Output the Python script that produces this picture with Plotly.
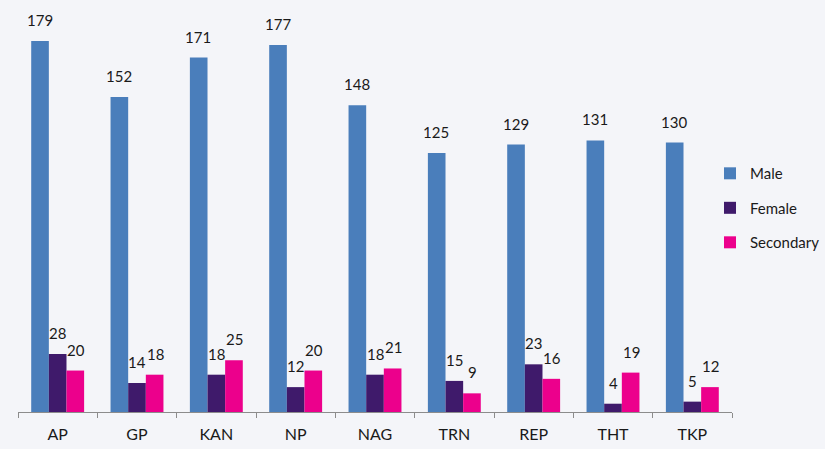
import plotly.graph_objects as go

categories = ["AP", "GP", "KAN", "NP", "NAG", "TRN", "REP", "THT", "TKP"]
male = [179, 152, 171, 177, 148, 125, 129, 131, 130]
female = [28, 14, 18, 12, 18, 15, 23, 4, 5]
secondary = [20, 18, 25, 20, 21, 9, 16, 19, 12]

series = [
    ("Male", male, "#4A7EBB"),
    ("Female", female, "#3F1A6B"),
    ("Secondary", secondary, "#EC008C"),
]
label_shift = [-18, 0, 18]

fig = go.Figure()
for (name, vals, color), dx in zip(series, label_shift):
    fig.add_trace(go.Bar(
        x=categories, y=vals, name=name, legendgroup=name,
        marker=dict(color=color, line=dict(width=0)),
    ))
    for c, v in zip(categories, vals):
        fig.add_annotation(x=c, y=v, text=str(v), showarrow=False,
                           xshift=dx, yshift=10, yanchor="bottom",
                           font=dict(size=15, color="#1a1a1a", family="Lato"))

fig.update_layout(
    width=825, height=449,
    margin=dict(l=18, r=78, t=0, b=37),
    paper_bgcolor="#F4F5F9", plot_bgcolor="#F4F5F9",
    barmode="group", bargap=0.333, bargroupgap=0,
    font=dict(family="Lato", size=15, color="#1a1a1a"),
    showlegend=True,
    legend=dict(x=0.9695, xanchor="left", y=0.495, yanchor="middle",
                font=dict(size=15), itemwidth=30, tracegroupgap=12,
                traceorder="grouped",
                bgcolor="rgba(0,0,0,0)"),
    xaxis=dict(showline=True, linecolor="#8c8c8c", linewidth=1,
               ticks="outside", tickson="boundaries", ticklen=5, tickcolor="#8c8c8c",
               showgrid=False, tickfont=dict(size=16), ticklabelstandoff=8),
    yaxis=dict(range=[0, 198.75], visible=False, showgrid=False),
)
fig.write_html("out.html", config={"displayModeBar": False},
               post_script="document.body.style.margin='0';document.body.style.background='#F4F5F9';")
